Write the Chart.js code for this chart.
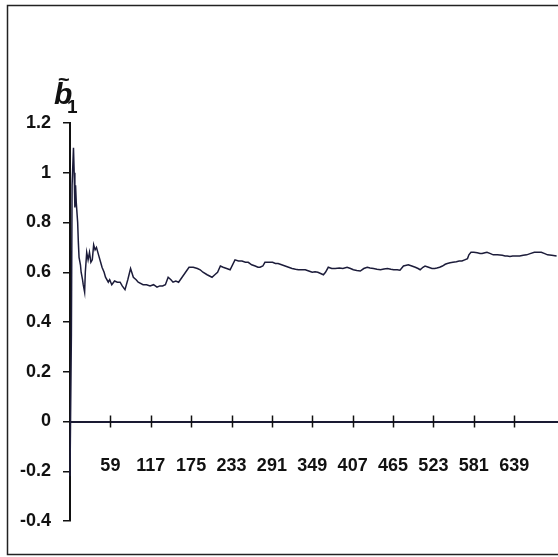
<!DOCTYPE html>
<html>
<head>
<meta charset="utf-8">
<script src="https://cdn.jsdelivr.net/npm/chart.js@4.4.1/dist/chart.umd.min.js"></script>
<style>
  html, body { margin: 0; padding: 0; background: #ffffff; }
  #wrap { width: 558px; height: 557px; position: relative; }
</style>
</head>
<body>
<div id="wrap"><canvas id="c" width="558" height="557"></canvas></div>
<script>
// ---- data ----
const obsIndex = [1, 3, 4, 6, 7, 8, 9, 10, 12, 13, 14, 16, 17, 19, 20, 22, 23, 25, 27, 29, 31, 33, 35, 37, 39, 42, 45, 47, 50, 52, 56, 58, 61, 65, 69, 73, 76, 80, 84, 88, 92, 96, 99, 106, 111, 116, 121, 126, 130, 134, 138, 142, 146, 149, 153, 157, 162, 167, 172, 178, 184, 188, 192, 198, 205, 209, 213, 217, 221, 226, 231, 238, 243, 248, 253, 257, 262, 267, 271, 274, 278, 281, 286, 292, 296, 300, 305, 310, 315, 320, 325, 329, 334, 339, 344, 349, 353, 357, 361, 365, 368, 372, 377, 382, 388, 393, 399, 404, 408, 413, 418, 423, 428, 432, 437, 442, 447, 452, 457, 462, 466, 471, 475, 480, 487, 492, 497, 501, 504, 508, 511, 516, 521, 525, 528, 532, 536, 540, 543, 547, 551, 556, 560, 564, 568, 572, 574, 577, 581, 586, 590, 593, 597, 600, 605, 609, 615, 622, 626, 629, 633, 637, 642, 647, 652, 657, 662, 668, 673, 678, 683, 687, 693, 700];
const b1Values = [-0.22, 0.35, 0.95, 1.10, 1.00, 0.86, 0.95, 0.88, 0.80, 0.72, 0.66, 0.63, 0.60, 0.57, 0.55, 0.52, 0.60, 0.68, 0.65, 0.68, 0.64, 0.65, 0.71, 0.69, 0.70, 0.67, 0.64, 0.62, 0.60, 0.58, 0.56, 0.57, 0.55, 0.565, 0.56, 0.56, 0.545, 0.53, 0.57, 0.615, 0.58, 0.57, 0.56, 0.55, 0.55, 0.545, 0.55, 0.54, 0.545, 0.545, 0.55, 0.58, 0.57, 0.56, 0.565, 0.56, 0.58, 0.60, 0.62, 0.62, 0.615, 0.61, 0.60, 0.59, 0.58, 0.59, 0.60, 0.625, 0.62, 0.615, 0.61, 0.65, 0.645, 0.645, 0.64, 0.64, 0.63, 0.625, 0.62, 0.62, 0.625, 0.64, 0.64, 0.64, 0.635, 0.635, 0.63, 0.625, 0.62, 0.615, 0.612, 0.61, 0.61, 0.61, 0.605, 0.60, 0.602, 0.60, 0.595, 0.59, 0.60, 0.62, 0.615, 0.615, 0.617, 0.615, 0.62, 0.615, 0.61, 0.607, 0.605, 0.615, 0.62, 0.617, 0.615, 0.612, 0.61, 0.613, 0.615, 0.612, 0.61, 0.61, 0.608, 0.625, 0.63, 0.625, 0.62, 0.615, 0.61, 0.62, 0.625, 0.62, 0.615, 0.615, 0.617, 0.62, 0.625, 0.632, 0.635, 0.638, 0.64, 0.642, 0.645, 0.645, 0.65, 0.655, 0.67, 0.68, 0.68, 0.678, 0.675, 0.675, 0.678, 0.68, 0.675, 0.67, 0.67, 0.668, 0.665, 0.665, 0.663, 0.665, 0.665, 0.665, 0.668, 0.67, 0.675, 0.68, 0.68, 0.68, 0.675, 0.67, 0.668, 0.665];
const xTickLabels = [59, 117, 175, 233, 291, 349, 407, 465, 523, 581, 639];
const yTickLabels = [-0.4, -0.2, 0, 0.2, 0.4, 0.6, 0.8, 1, 1.2];
const axisTitle = { main: 'b', accent: '~', sub: '1' };

const points = obsIndex.map((x, i) => ({ x: x, y: b1Values[i] }));
const labelFont = { family: '"Liberation Sans", Arial, sans-serif', size: 18, weight: 'bold' };

const decorPlugin = {
  id: 'decor',
  beforeDraw(chart) {
    const ctx = chart.ctx;
    ctx.save();
    ctx.fillStyle = '#ffffff';
    ctx.fillRect(0, 0, chart.width, chart.height);
    ctx.strokeStyle = '#222222';
    ctx.lineWidth = 1.5;
    ctx.strokeRect(7.5, 5.5, 620, 549);
    ctx.restore();
  },
  afterDraw(chart) {
    const ctx = chart.ctx;
    const xs = chart.scales.x, ys = chart.scales.y;
    const y0 = ys.getPixelForValue(0);
    ctx.save();
    ctx.strokeStyle = '#111111';
    ctx.lineWidth = 1.5;
    xTickLabels.forEach(v => {
      const px = Math.round(xs.getPixelForValue(v)) + 0.5;
      ctx.beginPath();
      ctx.moveTo(px, y0 - 6);
      ctx.lineTo(px, y0 + 6);
      ctx.stroke();
    });
    // axis title  b~ with subscript 1
    const ax = ys.right;
    ctx.fillStyle = '#111111';
    ctx.textBaseline = 'alphabetic';
    ctx.textAlign = 'left';
    ctx.font = 'italic bold 30px "Liberation Sans", Arial, sans-serif';
    ctx.fillText(axisTitle.main, ax - 16, 104);
    ctx.font = 'bold 20px "Liberation Sans", Arial, sans-serif';
    ctx.fillText(axisTitle.accent, ax - 12, 86);
    ctx.font = 'bold 19px "Liberation Sans", Arial, sans-serif';
    ctx.fillText(axisTitle.sub, ax - 3, 113);
    ctx.restore();
  }
};

new Chart(document.getElementById('c'), {
  type: 'line',
  data: {
    datasets: [{
      data: points,
      borderColor: '#1c1c3a',
      borderWidth: 1.5,
      pointRadius: 0,
      tension: 0,
      fill: false,
      clip: false
    }]
  },
  options: {
    responsive: false,
    animation: false,
    layout: { padding: { top: 123, bottom: 36, left: 0, right: 0 } },
    plugins: { legend: { display: false }, tooltip: { enabled: false } },
    scales: {
      x: {
        type: 'linear',
        min: 1,
        max: 702,
        position: { y: 0 },
        grid: { display: false, drawTicks: false },
        border: { display: true, color: '#1a1a33', width: 2 },
        afterBuildTicks: s => { s.ticks = xTickLabels.map(v => ({ value: v })); },
        afterFit: s => { s.paddingRight = 0; },
        ticks: {
          autoSkip: false, maxRotation: 0, padding: 34,
          color: '#111111', font: labelFont,
          callback: v => String(v)
        }
      },
      y: {
        type: 'linear',
        min: -0.4,
        max: 1.2,
        afterFit: s => { s.width = 70; },
        afterBuildTicks: s => { s.ticks = yTickLabels.map(v => ({ value: v })); },
        grid: { drawOnChartArea: false, drawTicks: true, tickLength: 7, color: '#111111', lineWidth: 1.5 },
        border: { display: true, color: '#111111', width: 2 },
        ticks: {
          padding: 12, color: '#111111', font: labelFont,
          callback: v => String(Math.round(v * 10) / 10)
        }
      }
    }
  },
  plugins: [decorPlugin, {
    id: 'fitRight',
    afterLayout(chart) {
      const xs = chart.scales.x;
      if (chart.chartArea.right < chart.width) {
        chart.chartArea.right = chart.width;
        xs.right = chart.width;
        xs.width = xs.right - xs.left;
        xs.configure();
      }
    }
  }]
});
</script>
</body>
</html>
